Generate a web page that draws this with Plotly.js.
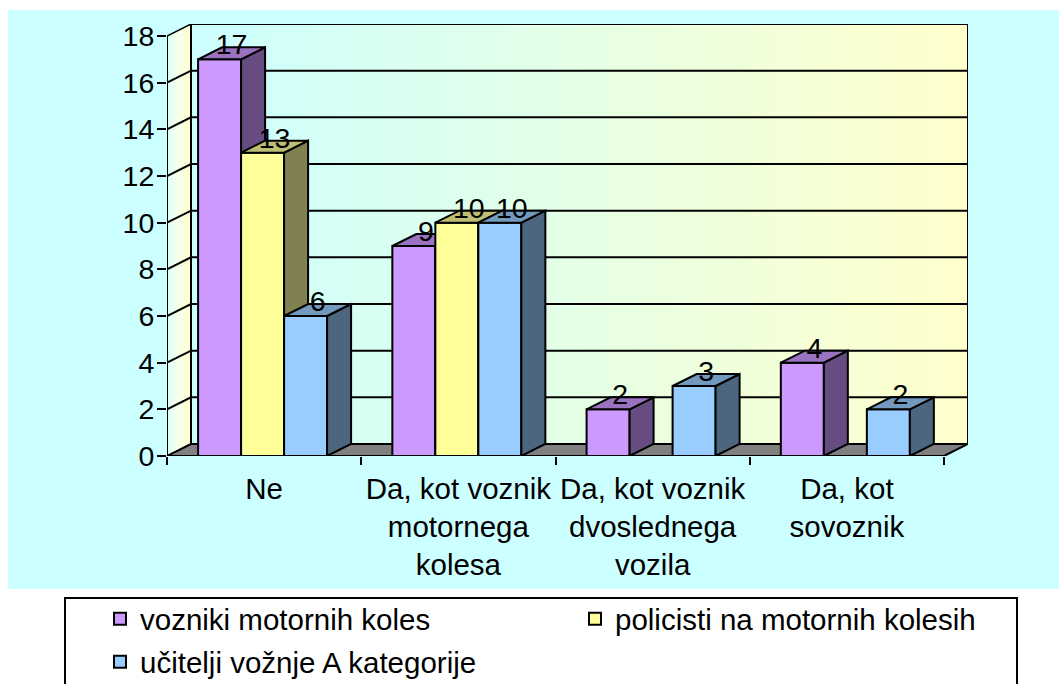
<!DOCTYPE html>
<html><head><meta charset="utf-8">
<script src="https://cdn.plot.ly/plotly-3.0.1.min.js"></script>
<style>html,body{margin:0;padding:0;background:#fff;} #chart{width:1059px;height:684px;}</style>
</head><body><div id="chart"></div>
<script>
// ---- data ----
const categories = ["Ne", "Da, kot voznik motornega kolesa", "Da, kot voznik dvoslednega vozila", "Da, kot sovoznik"];
const categoryTickText = ["Ne", "Da, kot voznik<br>motornega<br>kolesa", "Da, kot voznik<br>dvoslednega<br>vozila", "Da, kot<br>sovoznik"];
const seriesNames = ["vozniki motornih koles", "policisti na motornih kolesih", "učitelji vožnje A kategorije"];
const vozniki = [17, 9, 2, 4];
const policisti = [13, 10, 0, 0];
const ucitelji = [6, 10, 3, 2];
const yTickValues = [0, 2, 4, 6, 8, 10, 12, 14, 16, 18];

// ---- styling / geometry ----
const FONT = "Liberation Sans, Arial, sans-serif";
const W = 1059, H = 684, ML = 167, MR = 91, MT = 24, MB = 228;
const PW = W - ML - MR, PH = H - MT - MB;
const YMAXV = 18;
const DY = 12 * YMAXV / (PH - 12);          // depth offset in y units (12 px)
const YMAX = YMAXV + DY;
const NCAT = categories.length;
const XMAXF = NCAT;                          // front axis length
const DX = 24 * XMAXF / (PW - 24);           // depth offset in x units (24 px)
const XMAX = XMAXF + DX;
const BW = 0.2214;                           // bar width (x units)
const BSTART = 0.16;                         // first bar start inside a category
const frontColors = ["#CC99FF", "#FFFF99", "#99CCFF"];
const sideColors = ["#664C80", "#808050", "#4C6680"];
const topColors = ["#9973BF", "#BFBF73", "#7399BF"];
const series = [vozniki, policisti, ucitelji];
const legendIds = ["legend", "legend2", "legend3"];

const px2x = p => (p - ML) / PW;
const py2y = p => (H - MB - p) / PH;

const traces = [];
const poly = (xs, ys, color, extra) => Object.assign({
  type: "scatter", mode: "lines", x: xs.concat([xs[0]]), y: ys.concat([ys[0]]),
  fill: "toself", fillcolor: color, line: {color: "#000", width: 2},
  hoverinfo: "skip", showlegend: false
}, extra || {});

// bars (legend + base marks)
series.forEach((vals, i) => {
  traces.push({
    type: "bar", name: seriesNames[i], legend: legendIds[i],
    x: categories.map((c, g) => g + 0.5), y: vals,
    width: BW, offset: BSTART - 0.5 + i * BW,
    marker: {color: frontColors[i], line: {color: "#000", width: 2}},
    hoverinfo: "skip"
  });
});

// side wall
traces.push(poly([0, DX, DX, 0], [0, DY, YMAXV + DY, YMAXV], "#FFFFCC",
  {fillgradient: {type: "horizontal", colorscale: [[0, "#D9FFF5"], [0.4, "#F5FFEE"], [1, "#FFFFCC"]]}, line: {color: "#000", width: 1.5}}));
// back wall
traces.push(poly([DX, XMAX, XMAX, DX], [DY, DY, YMAXV + DY, YMAXV + DY], "#E5FFE5",
  {fillgradient: {type: "horizontal", colorscale: [[0, "#CCFFFF"], [1, "#FFFFCC"]]}, line: {color: "#000", width: 2}}));
// floor
traces.push(poly([0, DX, XMAX, XMAXF], [0, DY, DY, 0], "#808080", {line: {color: "#000", width: 2}}));
// gridlines
(function () {
  const gx = [], gy = [];
  yTickValues.filter(v => v > 0 && v < YMAXV).forEach(v => {
    gx.push(0, DX, XMAX, null); gy.push(v, v + DY, v + DY, null);
  });
  traces.push({type: "scatter", mode: "lines", x: gx, y: gy, line: {color: "#000", width: 2},
    hoverinfo: "skip", showlegend: false, connectgaps: false});
})();
// front y axis line
traces.push({type: "scatter", mode: "lines", x: [0, 0], y: [0, YMAXV], line: {color: "#000", width: 2},
  hoverinfo: "skip", showlegend: false});

// 3D faces painted left to right
const lx = [], ly = [], lt = [];
for (let g = 0; g < NCAT; g++) {
  series.forEach((vals, i) => {
    const v = vals[g];
    if (!(v > 0)) return;
    const x0 = g + BSTART + i * BW, x1 = x0 + BW;
    traces.push(poly([x0, x1, x1, x0], [0, 0, v, v], frontColors[i]));
    traces.push(poly([x1, x1 + DX, x1 + DX, x1], [0, DY, v + DY, v], sideColors[i]));
    traces.push(poly([x0, x0 + DX, x1 + DX, x1], [v, v + DY, v + DY, v], topColors[i]));
    lx.push((x0 + x1) / 2 + DX / 2); ly.push(v + DY); lt.push(String(v));
  });
}
// data labels
traces.push({type: "scatter", mode: "text", x: lx, y: ly, text: lt, textposition: "middle center",
  textfont: {family: FONT, size: 28.5, color: "#000"}, hoverinfo: "skip", showlegend: false, cliponaxis: false});

const legendFont = {family: FONT, size: 29.5, color: "#000"};
const layout = {
  width: W, height: H,
  margin: {l: ML, r: MR, t: MT, b: MB, autoexpand: false},
  paper_bgcolor: "#FFFFFF", plot_bgcolor: "rgba(0,0,0,0)",
  font: {family: FONT, size: 28, color: "#000"},
  barmode: "overlay",
  showlegend: true,
  xaxis: {
    range: [0, XMAX], showgrid: false, zeroline: false, showline: false,
    tickmode: "array", tickvals: categories.map((c, g) => g + 0.5), ticktext: categoryTickText,
    ticks: "", ticklabelstandoff: 12, tickfont: {family: FONT, size: 29.5, color: "#000"},
    minor: {tick0: 0, dtick: 1, ticks: "outside", ticklen: 8, tickwidth: 2, tickcolor: "#000", showgrid: false},
    fixedrange: true
  },
  yaxis: {
    range: [0, YMAX], showgrid: false, zeroline: false, showline: false,
    tickmode: "array", tickvals: yTickValues, ticks: "outside", ticklen: 9, tickwidth: 2, tickcolor: "#000",
    tickfont: {family: FONT, size: 28.5, color: "#000"}, ticklabelstandoff: -3,
    fixedrange: true
  },
  legend: {x: px2x(100), y: py2y(593), xanchor: "left", yanchor: "top", bgcolor: "rgba(0,0,0,0)", borderwidth: 0, font: legendFont},
  legend2: {x: px2x(575), y: py2y(593), xanchor: "left", yanchor: "top", bgcolor: "rgba(0,0,0,0)", borderwidth: 0, font: legendFont},
  legend3: {x: px2x(100), y: py2y(636), xanchor: "left", yanchor: "top", bgcolor: "rgba(0,0,0,0)", borderwidth: 0, font: legendFont},
  shapes: [
    {type: "rect", xref: "paper", yref: "paper", layer: "below",
      x0: px2x(8), x1: px2x(1062), y0: py2y(589), y1: py2y(10), fillcolor: "#CCFFFF", line: {width: 0}},
    {type: "rect", xref: "paper", yref: "paper", layer: "below",
      x0: px2x(65), x1: px2x(1017), y0: py2y(720), y1: py2y(598), fillcolor: "#FFFFFF", line: {color: "#000", width: 2}}
  ]
};

Plotly.newPlot("chart", traces, layout, {displayModeBar: false, staticPlot: true});
</script>
</body></html>
